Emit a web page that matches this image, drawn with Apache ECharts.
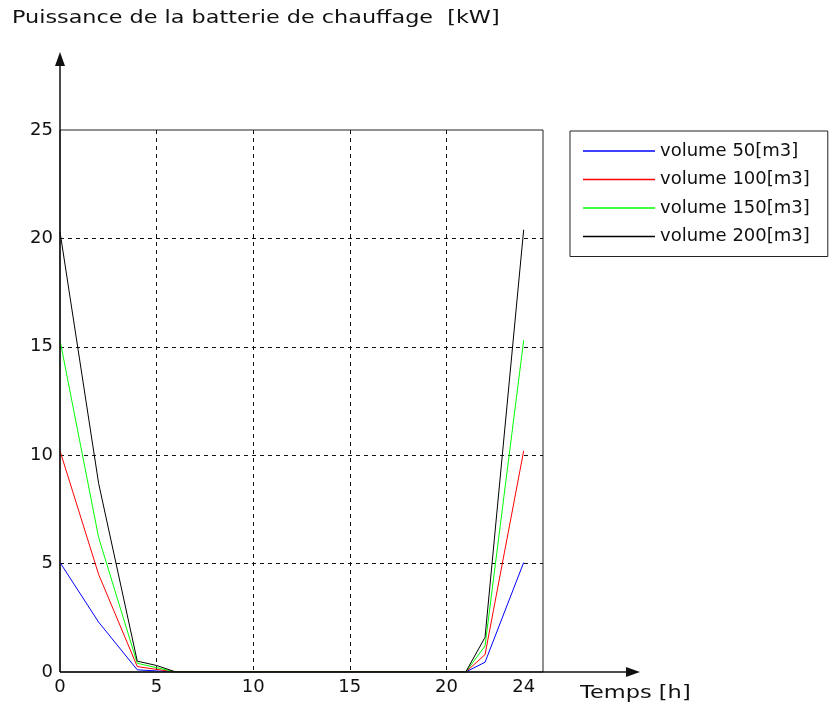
<!DOCTYPE html>
<html>
<head>
    <meta charset="utf-8">
    <title>Puissance batterie</title>
    <script src="https://cdn.jsdelivr.net/npm/echarts@6/dist/echarts.min.js"></script>
</head>
<body style="margin:0;background:#fff">
    <div id="main" style="width: 832px;height:713px;"></div>
    <script type="text/javascript">
        // heures ou les courbes changent de pente
        var hours = [0, 2, 4, 5, 6, 21, 22, 24]
        var vol50 = [5.05, 2.3, 0.1, 0.05, 0, 0, 0.45, 5.05]
        var vol100 = [10.2, 4.5, 0.25, 0.12, 0, 0, 0.8, 10.2]
        var vol150 = [15.3, 6.2, 0.4, 0.2, 0, 0, 1.2, 15.3]
        var vol200 = [20.3, 8.7, 0.5, 0.3, 0, 0, 1.6, 20.4]
        var xLabels = [0, 5, 10, 15, 20, 24]
        var names = ["volume 50[m3]", "volume 100[m3]", "volume 150[m3]", "volume 200[m3]"]
        var colors = ["#0000ff", "#ff0000", "#00ff00", "#000000"]

        var font = "DejaVu Sans"
        var myChart = echarts.init(document.getElementById("main"))

        function pairs(ys) {
            return hours.map(function (h, i) { return [h, ys[i]] })
        }

        var allSeries = [vol50, vol100, vol150, vol200].map(function (ys, i) {
            return {
                name: names[i],
                type: "line",
                data: pairs(ys),
                symbol: "none",
                lineStyle: { color: colors[i], width: 1 },
                itemStyle: { color: colors[i] },
                z: 3
            }
        })

        var option = {
            backgroundColor: "#fff",
            animation: false,
            grid: {
                left: 60, top: 130, right: 289, bottom: 41,
                show: true, borderColor: "#222", borderWidth: 1
            },
            legend: {
                orient: "vertical",
                left: 570, top: 131,
                padding: [10, 18, 10, 13],
                icon: "rect",
                itemWidth: 72, itemHeight: 1.5, itemGap: 8.5, itemTextGap: 7,
                borderColor: "#222", borderWidth: 1,
                textStyle: { fontFamily: font, fontSize: 18, lineHeight: 20, color: "#111" },
                data: names
            },
            xAxis: {
                type: "value",
                min: 0, max: 25, interval: 5,
                axisLine: { show: false },
                axisTick: { show: false, customValues: [5, 10, 15, 20] },
                axisLabel: {
                    customValues: xLabels,
                    fontFamily: font, fontSize: 18, color: "#111", margin: 6
                },
                splitLine: { show: true, lineStyle: { color: "#111", type: [4, 4], width: 1 } }
            },
            yAxis: {
                type: "value",
                min: 0, max: 25, interval: 5,
                axisLine: { show: false },
                axisTick: { show: false, customValues: [5, 10, 15, 20] },
                axisLabel: { customValues: [0, 5, 10, 15, 20, 25], fontFamily: font, fontSize: 18, color: "#111", margin: 7 },
                splitLine: { show: true, lineStyle: { color: "#111", type: [4, 4], width: 1 } }
            },
            graphic: [
                { type: "text", left: 12, top: 9, scaleX: 1.24, style: { text: "Puissance de la batterie de chauffage  [kW]", font: "18px " + font, fill: "#111" } },
                { type: "text", left: 580, top: 684, scaleX: 1.25, style: { text: "Temps [h]", font: "18px " + font, fill: "#111" } },
                { type: "line", shape: { x1: 60, y1: 672, x2: 60, y2: 62 }, style: { stroke: "#111", lineWidth: 1.5 }, z: 10 },
                { type: "polygon", shape: { points: [[55, 66], [65, 66], [60, 52]] }, style: { fill: "#111" }, z: 10 },
                { type: "line", shape: { x1: 60, y1: 672, x2: 630, y2: 672 }, style: { stroke: "#111", lineWidth: 1.5 }, z: 10 },
                { type: "polygon", shape: { points: [[626, 667], [626, 677], [640, 672]] }, style: { fill: "#111" }, z: 10 }
            ],
            series: allSeries
        }
        myChart.setOption(option)
    </script>
</body>
</html>
